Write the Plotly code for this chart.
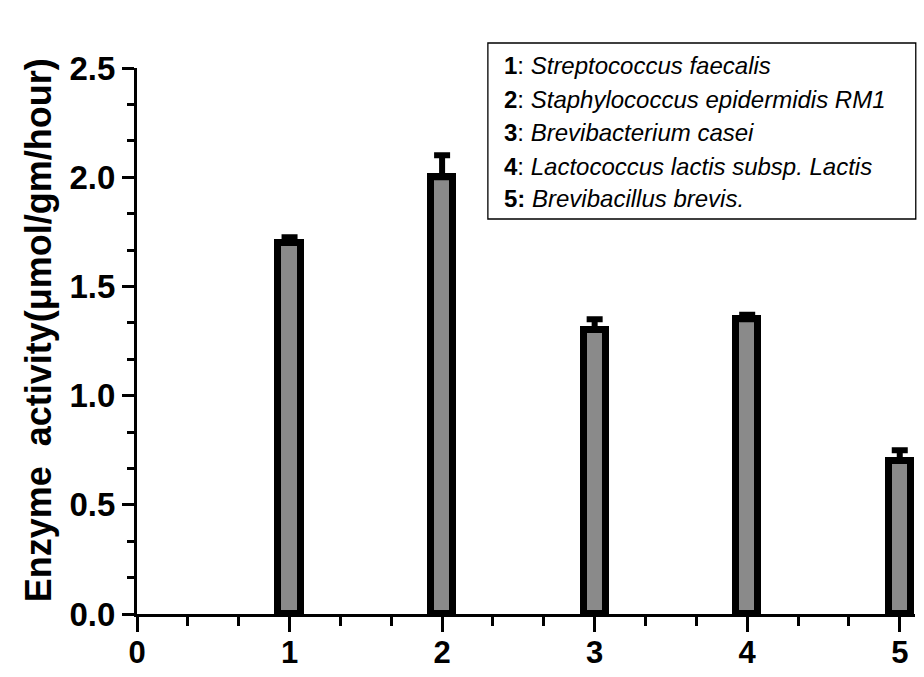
import plotly.graph_objects as go

categories = [1, 2, 3, 4, 5]
activity = [1.70, 2.00, 1.30, 1.35, 0.70]
error_up = [0.025, 0.10, 0.05, 0.02, 0.05]
x_ticks = [0, 1, 2, 3, 4, 5]
y_ticks = [0.0, 0.5, 1.0, 1.5, 2.0, 2.5]
y_tick_labels = ["0.0", "0.5", "1.0", "1.5", "2.0", "2.5"]
legend_lines = [
    "<b>1</b>: <i>Streptococcus faecalis</i>",
    "<b>2</b>: <i>Staphylococcus epidermidis RM1</i>",
    "<b>3</b>: <i>Brevibacterium casei</i>",
    "<b>4</b>: <i>Lactococcus lactis subsp. Lactis</i>",
    "<b>5:</b> <i>Brevibacillus brevis.</i>",
]

FONT = "Liberation Sans"

fig = go.Figure()
fig.add_trace(go.Bar(
    x=categories, y=activity, width=0.145,
    marker=dict(color="#8a8a8a", line=dict(color="black", width=7)),
    error_y=dict(type="data", array=error_up, arrayminus=[0]*len(error_up),
                 symmetric=False, color="black", thickness=6, width=8),
    showlegend=False,
))

axis_common = dict(showline=True, linecolor="black", linewidth=3,
                   ticks="outside", tickcolor="black", tickwidth=3,
                   showgrid=False, zeroline=False, mirror=False, automargin=False)

fig.update_xaxes(range=[0, 5.1], tickvals=x_ticks, ticklen=15,
                 ticktext=[f"<b>{v}</b>" for v in x_ticks],
                 tickfont=dict(family=FONT, size=31, color="black"),
                 ticklabelstandoff=-6,
                 minor=dict(dtick=1/3, tick0=0, ticks="outside", ticklen=9,
                            tickwidth=3, tickcolor="black"),
                 **axis_common)
fig.update_yaxes(range=[0, 2.5], tickvals=y_ticks, ticklen=12,
                 ticktext=[f"<b>{t}</b>" for t in y_tick_labels],
                 tickfont=dict(family=FONT, size=33, color="black"),
                 minor=dict(dtick=0.5/3, tick0=0, ticks="outside", ticklen=7,
                            tickwidth=3, tickcolor="black"),
                 **axis_common)

# legend box
fig.add_shape(type="rect", xref="paper", yref="paper",
              x0=0.451, x1=1.001, y0=0.7234, y1=1.0458,
              line=dict(color="black", width=1.3), fillcolor="white", layer="above")
ys = [1.0037, 0.9414, 0.8810, 0.8205, 0.7601]
for txt, yy in zip(legend_lines, ys):
    fig.add_annotation(text=txt, xref="paper", yref="paper", x=0.469, y=yy,
                       xanchor="left", yanchor="middle", showarrow=False,
                       font=dict(family=FONT, size=24, color="black"))

fig.add_annotation(text="<b>Enzyme  activity(\u03bcmol/gm/hour)</b>",
                   xref="paper", yref="paper", x=-0.127, y=0.52,
                   textangle=-90, showarrow=False, xanchor="center", yanchor="middle",
                   font=dict(family=FONT, size=36, color="black"))

fig.update_layout(width=924, height=677, plot_bgcolor="white", paper_bgcolor="white",
                  margin=dict(l=137, r=9, t=68, b=63), bargap=0)

fig.write_html("out.html")
